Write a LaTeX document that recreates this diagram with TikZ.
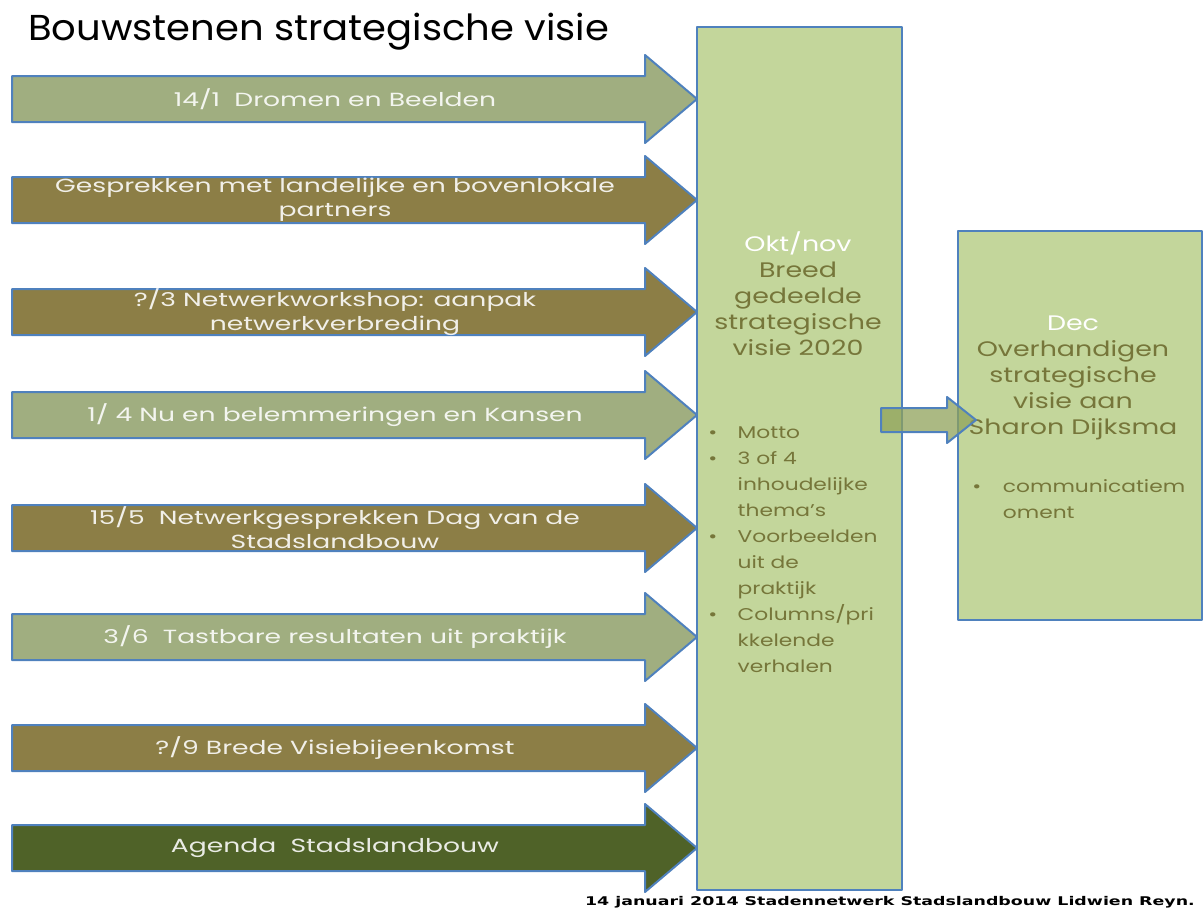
\documentclass[tikz,border=0pt]{standalone}
\usepackage{fontspec}
\setmainfont{Poppins}
\newfontfamily\voetfont{DejaVu Sans}
\usetikzlibrary{positioning}
\definecolor{rand}{HTML}{4F81BD}
\definecolor{lichtgroen}{HTML}{A0AE80}
\definecolor{olijf}{HTML}{8C7E46}
\definecolor{donkergroen}{HTML}{4F6228}
\definecolor{vlak}{HTML}{C3D69B}
\definecolor{tekstolijf}{HTML}{76763A}
\definecolor{pijltje}{HTML}{8FA25A}

\begin{document}
\begin{tikzpicture}[x=1pt, y=-1pt, line join=round,
                    blokpijl/.style={draw=rand, line width=2pt},
                    pijltekst/.style={text=white, text opacity=0.88, align=center, xscale=1.4,
                                      font=\fontsize{19}{24}\selectfont},
                    vak/.style={draw=rand, line width=2pt, fill=vlak, rectangle, inner sep=0pt},
                    vaktekst/.style={text=tekstolijf, align=center, inner sep=0pt, xscale=1.28,
                                     font=\fontsize{21}{26}\selectfont},
                    punten/.style={text=tekstolijf, inner sep=0pt, anchor=north west, xscale=1.28,
                                   font=\fontsize{17}{26}\selectfont}]
  \useasboundingbox (0,0) rectangle (1203,910);

  % titel
  \node[anchor=base west, inner sep=0pt, xscale=1.07, font=\fontsize{36}{40}\selectfont]
    (titel) at (28,40) {Bouwstenen strategische visie};

  % bouwstenen
  \foreach \yc/\kleur/\tekst [count=\i] in
      {99/lichtgroen/{14/1\ \ Dromen en Beelden},
       200/olijf/{Gesprekken met landelijke en bovenlokale\\partners},
       312/olijf/{?/3 Netwerkworkshop: aanpak\\netwerkverbreding},
       415/lichtgroen/{1/ 4 Nu en belemmeringen en Kansen},
       528/olijf/{15/5\ \ Netwerkgesprekken Dag van de\\Stadslandbouw},
       637/lichtgroen/{3/6\ \ Tastbare resultaten uit praktijk},
       748/olijf/{?/9 Brede Visiebijeenkomst},
       848/donkergroen/{Agenda\ \ Stadslandbouw}}{
    \draw[blokpijl, fill=\kleur] (12,\yc-23) -- (645,\yc-23) -- (645,\yc-44)
      -- (697,\yc) -- (645,\yc+44) -- (645,\yc+23) -- (12,\yc+23) -- cycle;
    \node[pijltekst] (steen\i) at (335,\yc) {\tekst};
  }

  % visie
  \node[vak, minimum width=205pt, minimum height=863pt] (visie) at (799.5,458.5) {};
  \node[vaktekst, anchor=north] (visiekop) at (798,232)
    {{\color{white}Okt/nov}\\Breed\\gedeelde\\strategische\\visie 2020};
  \node[punten] (visiepunten) at (708,420) {%
    \begin{tabular}{@{}p{23pt}@{}l@{}}
      \textbullet & Motto\\
      \textbullet & 3 of 4\\
                  & inhoudelijke\\
                  & thema’s\\
      \textbullet & Voorbeelden\\
                  & uit de\\
                  & praktijk\\
      \textbullet & Columns/pri\\
                  & kkelende\\
                  & verhalen
    \end{tabular}};

  % overhandigen
  \node[vak, minimum width=244pt, minimum height=389pt] (dec) at (1080,425.5) {};
  \node[vaktekst, anchor=north] (deckop) at (1073,316)
    {{\color{white}Dec}\\Overhandigen\\strategische\\visie aan\\Sharon Dijksma};
  \node[punten] (decpunten) at (972,474) {%
    \begin{tabular}{@{}p{24pt}@{}l@{}}
      \textbullet & communicatiem\\
                  & oment
    \end{tabular}};

  % pijltje van visie naar dec
  \coordinate (van) at ([xshift=-22pt, yshift=5.5pt]visie.east |- dec.west);
  \coordinate (naar) at ([xshift=19pt, yshift=5.5pt]dec.west);
  \draw[blokpijl, fill=pijltje, fill opacity=0.75]
    ([yshift=12pt]van) -- ([xshift=-29pt, yshift=12pt]naar)
    -- ([xshift=-29pt, yshift=23pt]naar) -- (naar)
    -- ([xshift=-29pt, yshift=-23pt]naar) -- ([xshift=-29pt, yshift=-12pt]naar)
    -- ([yshift=-12pt]van) -- cycle;

  % voetregel
  \node[anchor=base east, inner sep=0pt, xscale=1.45,
        font=\voetfont\bfseries\fontsize{12}{14}\selectfont]
    (voet) at (1195,905) {14 januari 2014 Stadennetwerk Stadslandbouw Lidwien Reyn.};
\end{tikzpicture}
\end{document}
